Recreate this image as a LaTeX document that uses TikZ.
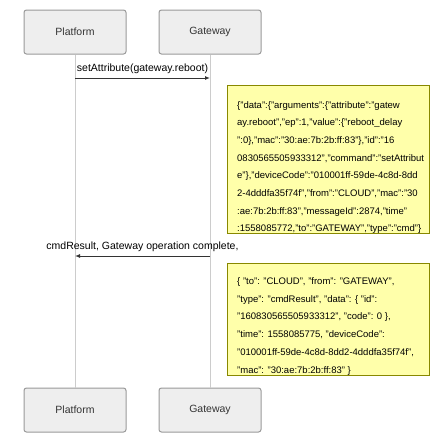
\documentclass[tikz,border=0pt]{standalone}
\usepackage{fontspec}
\setmainfont{Liberation Sans}
\usetikzlibrary{arrows.meta}

\definecolor{boxfill}{HTML}{EEEEEE}
\definecolor{boxline}{HTML}{999999}
\definecolor{notefill}{HTML}{FFFFAA}
\definecolor{noteline}{HTML}{888800}
\definecolor{lifeline}{HTML}{CCCCCC}
\definecolor{msgline}{HTML}{333333}

\begin{document}
\begin{tikzpicture}[x=1pt,y=-1pt,
  actor/.style={draw=boxline,line width=1pt,fill=boxfill,rounded corners=2.5pt,minimum width=102pt,minimum height=44pt,font=\fontsize{10.5}{12}\selectfont,text=msgline},
  life/.style={draw=lifeline,line width=1pt},
  msg/.style={draw=msgline,line width=1pt,-{Latex[length=5pt,width=4pt]}},
  msglabel/.style={font=\fontsize{10.5}{12}\selectfont,inner sep=0pt},
  note/.style={draw=noteline,line width=1pt,fill=notefill,minimum width=202pt,inner sep=0pt,anchor=north west},
  notetext/.style={font=\fontsize{9.5}{17.7}\selectfont,align=left,inner sep=0pt,anchor=north west}]
\useasboundingbox (0,0) rectangle (440,440);

% actors
\node[actor] (p1) at (75,32) {Platform};
\node[actor] (gw1) at (210,32) {Gateway};
\node[actor] (p2) at (75,410) {Platform};
\node[actor] (gw2) at (210,410) {Gateway};
\draw[life] (p1) -- (p2);
\draw[life] (gw1) -- (gw2);

% setAttribute
\coordinate (m1a) at (75,78);
\coordinate (m1b) at (210,78);
\draw[msg] (m1a) -- (m1b);
\node[msglabel] (l1) at (142.5,69) {setAttribute(gateway.reboot)};
\node[note,minimum height=148pt] (n1) at (227,85) {};
\node[notetext] (t1) at (237,101) {\{"data":\{"arguments":\{"attribute":"gatew\\
ay.reboot","ep":1,"value":\{"reboot\_delay\\
":0\},"mac":"30:ae:7b:2b:ff:83"\},"id":"16\\
0830565505933312","command":"setAttribut\\
e"\},"deviceCode":"010001ff-59de-4c8d-8dd\\
2-4dddfa35f74f","from":"CLOUD","mac":"30\\
:ae:7b:2b:ff:83","messageId":2874,"time"\\
:1558085772,"to":"GATEWAY","type":"cmd"\}};

% cmdResult
\coordinate (m2a) at (210,256);
\coordinate (m2b) at (75,256);
\draw[msg] (m2a) -- (m2b);
\node[msglabel] (l2) at (142.5,247) {cmdResult, Gateway operation complete,};
\node[note,minimum height=112pt] (n2) at (227,263) {};
\node[notetext] (t2) at (237,277.5) {\{ "to": "CLOUD", "from": "GATEWAY",\\
"type": "cmdResult", "data": \{ "id":\\
"160830565505933312", "code": 0 \},\\
"time": 1558085775, "deviceCode":\\
"010001ff-59de-4c8d-8dd2-4dddfa35f74f",\\
"mac": "30:ae:7b:2b:ff:83" \}};
\end{tikzpicture}
\end{document}
